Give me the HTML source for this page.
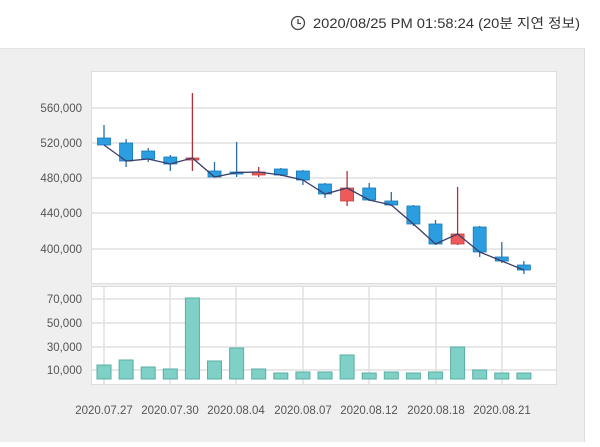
<!DOCTYPE html><html><head><meta charset="utf-8"><style>
body{margin:0;width:600px;height:442px;overflow:hidden;background:#fff;font-family:"Liberation Sans","Noto Sans CJK KR",sans-serif}
</style></head><body>
<svg width="600" height="442" xmlns="http://www.w3.org/2000/svg" font-family="Liberation Sans, Noto Sans CJK KR, sans-serif">
<rect x="0" y="48" width="584" height="394" fill="#efefef"/>
<line x1="0" y1="48.5" x2="584" y2="48.5" stroke="#e2e2e2"/>
<line x1="584.5" y1="48" x2="584.5" y2="442" stroke="#dcdcdc"/>
<circle cx="298" cy="23" r="6.5" fill="none" stroke="#444" stroke-width="1.3"/>
<path d="M298 19v4.5h3" fill="none" stroke="#444" stroke-width="1.3"/>
<text x="313" y="28" font-size="13.5" fill="#333" textLength="267" lengthAdjust="spacingAndGlyphs">2020/08/25 PM 01:58:24 (20분 지연 정보)</text>
<rect x="91.5" y="71.5" width="465" height="212" fill="#fff" stroke="#ddd"/>
<rect x="91.5" y="286.5" width="465" height="98" fill="#fff" stroke="#ddd"/>
<g stroke="#e0e0e0" stroke-width="1.5">
<line x1="92" x2="556" y1="108" y2="108"/><line x1="92" x2="556" y1="143" y2="143"/><line x1="92" x2="556" y1="178" y2="178"/><line x1="92" x2="556" y1="213" y2="213"/><line x1="92" x2="556" y1="249" y2="249"/>
<line x1="92" x2="556" y1="299" y2="299"/><line x1="92" x2="556" y1="323" y2="323"/><line x1="92" x2="556" y1="347" y2="347"/><line x1="92" x2="556" y1="370" y2="370"/>
<line y1="287" y2="384" x1="104" x2="104"/><line y1="287" y2="384" x1="170" x2="170"/><line y1="287" y2="384" x1="236" x2="236"/><line y1="287" y2="384" x1="303" x2="303"/><line y1="287" y2="384" x1="369" x2="369"/><line y1="287" y2="384" x1="436" x2="436"/><line y1="287" y2="384" x1="502" x2="502"/>
</g>
<g font-size="11.5" fill="#555" text-anchor="end">
<text x="82" y="112">560,000</text><text x="82" y="147">520,000</text><text x="82" y="182">480,000</text><text x="82" y="217">440,000</text><text x="82" y="253">400,000</text>
<text x="82" y="303">70,000</text><text x="82" y="327">50,000</text><text x="82" y="351">30,000</text><text x="82" y="374">10,000</text>
</g>
<g font-size="11.5" fill="#555" text-anchor="middle">
<text x="104" y="414">2020.07.27</text><text x="170" y="414">2020.07.30</text><text x="236" y="414">2020.08.04</text><text x="303" y="414">2020.08.07</text><text x="369" y="414">2020.08.12</text><text x="436" y="414">2020.08.18</text><text x="502" y="414">2020.08.21</text>
</g>
<g id="c"></g>
<g id="v"></g>
<polyline id="ln" fill="none" stroke="#3a3f6a" stroke-width="1.3"/>
</svg>
<script>
var C=[[125,145,138,145,0],[139,167,143,161,0],[148,162,151,159,0],[155,171,157,164,0],[93,171,158,160,1],[162,177,171,177,0],[142,177,172,173.5,0],[167,177,172,175,1],[168,176,169,175,0],[170,185,171,180,0],[183,198,184,194,0],[171,206,188,201,1],[183,201,188,200,0],[192,206,201,205,0],[205,226,206,224,0],[220,245,224,244,0],[187,245,234,244,1],[226,257,227,252,0],[242,263,257,261,0],[261,274,265,270,0]];
var cl=[145,161,159,164,158,177,172.5,172,175,180,194,188,200,205,224,244,234,252,261,270];
var V=[365,360,367,369,298,361,348,369,373,372,372,355,373,372,373,372,347,370,373,373];
var ns="http://www.w3.org/2000/svg",c=document.getElementById('c'),v=document.getElementById('v'),pts=[];
function el(p,t,a){var e=document.createElementNS(ns,t);for(var k in a)e.setAttribute(k,a[k]);p.appendChild(e);}
C.forEach(function(d,i){var x=104+22.1*i;var col=d[4]?'#ee5a5a':'#2a9ee0',st=d[4]?'#c04040':'#1a78b8';
el(c,'line',{x1:x,x2:x,y1:d[0],y2:d[1],stroke:d[4]?'#b03038':'#2a6fa8','stroke-width':1.3});
el(c,'rect',{x:x-6.5,y:d[2],width:13,height:Math.max(2,d[3]-d[2]),fill:col,stroke:st,'stroke-width':0.8});
pts.push(x+','+cl[i]);
el(v,'rect',{x:x-7,y:V[i],width:14,height:379-V[i],fill:'#7fd0c6',stroke:'#5aaea3','stroke-width':1});});
document.getElementById('ln').setAttribute('points',pts.join(' '));
</script>
</body></html>
